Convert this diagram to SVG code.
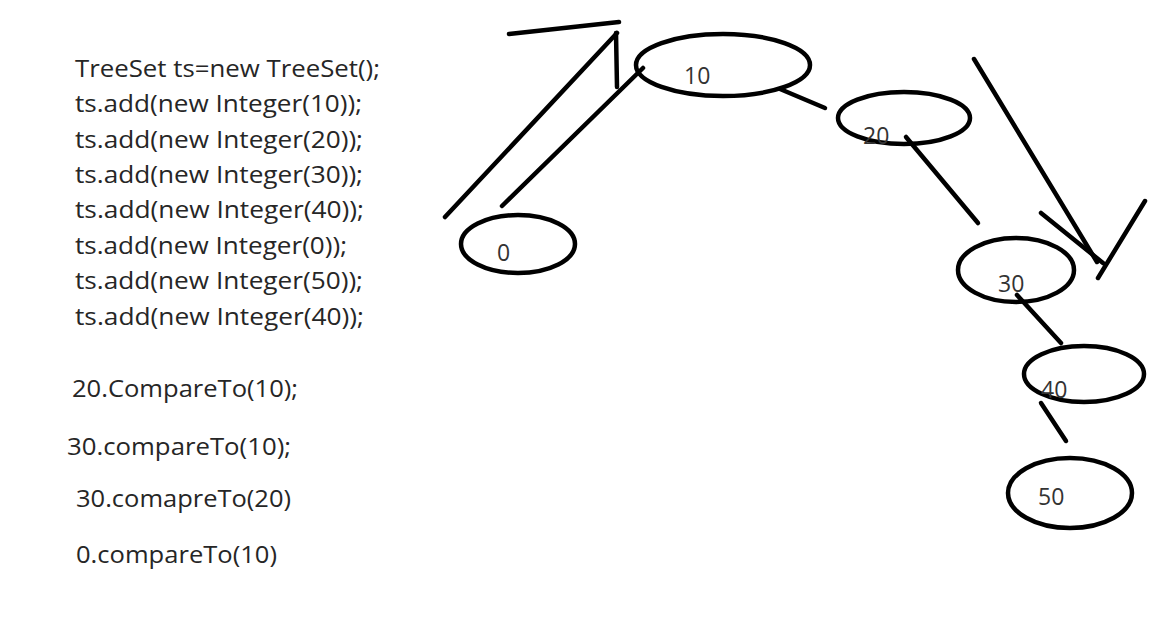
<svg xmlns="http://www.w3.org/2000/svg" width="1152" height="639" viewBox="0 0 1152 639">
<style>
.code{font-family:"Open Sans","Noto Sans",sans-serif;font-size:24px;fill:#262626}
.lbl{font-family:"Open Sans","Noto Sans",sans-serif;font-size:23px;fill:#333}
.node ellipse{fill:none;stroke:#000;stroke-width:4.5}
.ln{stroke:#000;stroke-width:4.5;stroke-linecap:round;fill:none}
</style>
<rect width="1152" height="639" fill="#fff"/>
<g id="code">
<text class="code" x="75" y="77" textLength="305" lengthAdjust="spacingAndGlyphs">TreeSet ts=new TreeSet();</text>
<text class="code" x="75" y="112" textLength="287" lengthAdjust="spacingAndGlyphs">ts.add(new Integer(10));</text>
<text class="code" x="75" y="148" textLength="288" lengthAdjust="spacingAndGlyphs">ts.add(new Integer(20));</text>
<text class="code" x="75" y="183" textLength="288" lengthAdjust="spacingAndGlyphs">ts.add(new Integer(30));</text>
<text class="code" x="75" y="218" textLength="289" lengthAdjust="spacingAndGlyphs">ts.add(new Integer(40));</text>
<text class="code" x="75" y="254" textLength="272" lengthAdjust="spacingAndGlyphs">ts.add(new Integer(0));</text>
<text class="code" x="75" y="289" textLength="288" lengthAdjust="spacingAndGlyphs">ts.add(new Integer(50));</text>
<text class="code" x="75" y="325" textLength="289" lengthAdjust="spacingAndGlyphs">ts.add(new Integer(40));</text>
<text class="code" x="72" y="397" textLength="226" lengthAdjust="spacingAndGlyphs">20.CompareTo(10);</text>
<text class="code" x="67" y="455" textLength="224" lengthAdjust="spacingAndGlyphs">30.compareTo(10);</text>
<text class="code" x="76" y="507" textLength="215" lengthAdjust="spacingAndGlyphs">30.comapreTo(20)</text>
<text class="code" x="76" y="563" textLength="201" lengthAdjust="spacingAndGlyphs">0.compareTo(10)</text>
</g>
<g id="connectors">
<line class="ln" x1="509" y1="34" x2="619" y2="22"/>
<line class="ln" x1="616" y1="33" x2="617" y2="87"/>
<line class="ln" x1="445" y1="217" x2="617" y2="33"/>
<line class="ln" x1="502" y1="206" x2="643" y2="68"/>
<line class="ln" x1="780" y1="89" x2="825" y2="108"/>
<line class="ln" x1="906" y1="137" x2="978" y2="223"/>
<line class="ln" x1="974" y1="59" x2="1097" y2="262"/>
<line class="ln" x1="1041" y1="213" x2="1103" y2="263"/>
<line class="ln" x1="1145" y1="201" x2="1098" y2="278"/>
<line class="ln" x1="1017" y1="295" x2="1061" y2="343"/>
<line class="ln" x1="1041" y1="403" x2="1066" y2="441"/>
</g>
<g id="node10" class="node"><ellipse cx="723" cy="65" rx="87" ry="31"/><text class="lbl" x="684" y="84">10</text></g>
<g id="node0" class="node"><ellipse cx="518" cy="244" rx="57" ry="29"/><text class="lbl" x="497" y="261">0</text></g>
<g id="node20" class="node"><ellipse cx="904" cy="118" rx="66" ry="26"/><text class="lbl" x="863" y="144">20</text></g>
<g id="node30" class="node"><ellipse cx="1016" cy="270" rx="58" ry="32"/><text class="lbl" x="998" y="292">30</text></g>
<g id="node40" class="node"><ellipse cx="1084" cy="374" rx="60" ry="28"/><text class="lbl" x="1041" y="398">40</text></g>
<g id="node50" class="node"><ellipse cx="1070" cy="493" rx="62" ry="35"/><text class="lbl" x="1038" y="505">50</text></g>
</svg>
